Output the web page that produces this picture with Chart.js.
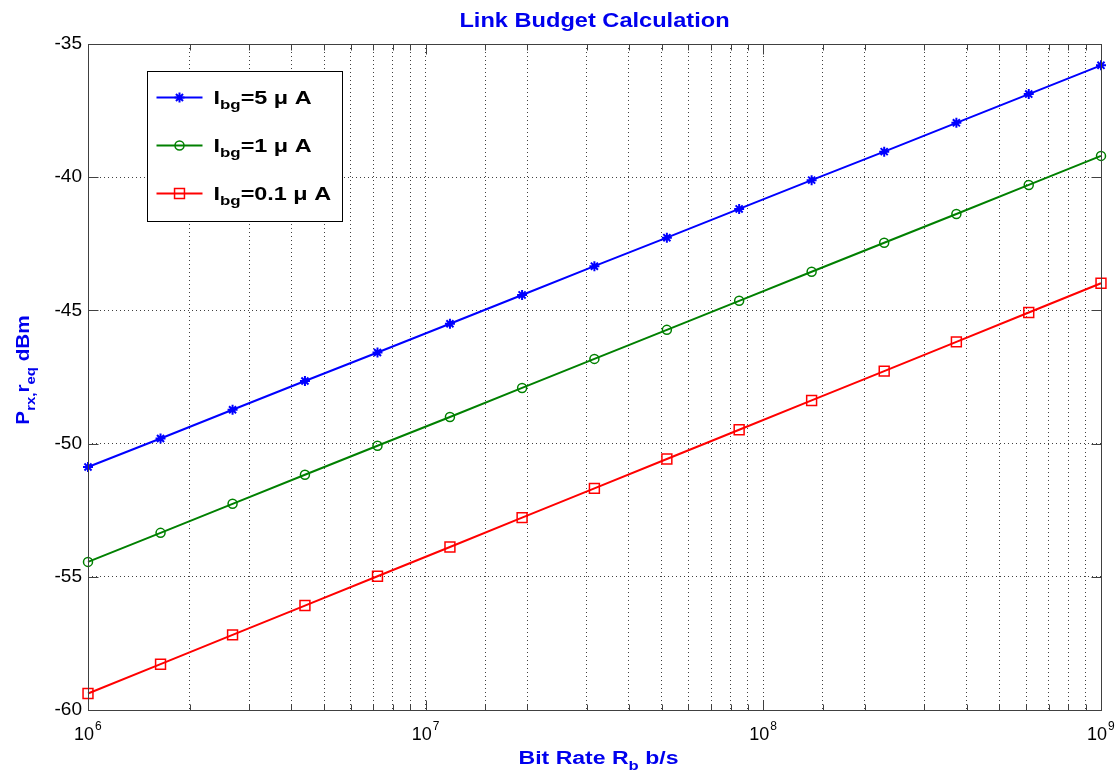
<!DOCTYPE html>
<html>
<head>
<meta charset="utf-8">
<title>Link Budget Calculation</title>
<script src="https://cdn.jsdelivr.net/npm/chart.js@4.4.1/dist/chart.umd.min.js"></script>
<style>
  html, body { margin: 0; padding: 0; background: #ffffff; }
  #linkChart { display: block; }
</style>
</head>
<body>
<canvas id="linkChart" width="1118" height="773"></canvas>
<script>
// Bit rates (b/s) of the computed points, log spaced 1e6 .. 1e9
var bitRates = [1e6, 1.64e6, 2.68e6, 4.39e6, 7.2e6, 1.18e7, 1.93e7, 3.16e7,
    5.18e7, 8.48e7, 1.39e8, 2.28e8, 3.73e8, 6.11e8, 1e9];

// Required received power (dBm) for each background current
var ibg5uA = [-50.88, -49.81, -48.73, -47.65, -46.58, -45.50, -44.42, -43.34,
    -42.27, -41.19, -40.11, -39.04, -37.96, -36.88, -35.80];
var ibg1uA = [-54.44, -53.35, -52.26, -51.17, -50.08, -49.00, -47.91, -46.82,
    -45.73, -44.64, -43.55, -42.46, -41.38, -40.29, -39.20];
var ibg01uA = [-59.38, -58.28, -57.18, -56.08, -54.98, -53.88, -52.78, -51.68,
    -50.58, -49.48, -48.38, -47.28, -46.18, -45.08, -43.98];

var seriesLabels = ["I_{bg}=5 \u03bc A", "I_{bg}=1 \u03bc A", "I_{bg}=0.1 \u03bc A"];

// Axis limits and tick step
var xMin = 1e6, xMax = 1e9;
var yMin = -60, yMax = -35, yStep = 5;

var chartTitle = "Link Budget Calculation";
var xAxisTitle = "Bit Rate R_{b} b/s";
var yAxisTitle = "P_{rx,}r_{eq} dBm";

var FONT = '"Liberation Sans", Arial, Helvetica, sans-serif';
var BLUE_TEXT = "#0000ee";

function toPoints(values) {
    return bitRates.map(function (x, i) {
        return { x: x, y: values[i] };
    });
}

function isDecade(v) {
    var e = Math.log10(v);
    return Math.abs(e - Math.round(e)) < 1e-6;
}

// Split "A_{b}c" into normal / subscript parts
function parseRich(s) {
    var out = [];
    var re = /_\{([^}]*)\}/g;
    var last = 0, m;
    while ((m = re.exec(s)) !== null) {
        if (m.index > last) out.push({ text: s.slice(last, m.index), sub: false });
        out.push({ text: m[1], sub: true });
        last = re.lastIndex;
    }
    if (last < s.length) out.push({ text: s.slice(last), sub: false });
    return out;
}

function drawRichText(ctx, text, x, y, size, scaleX, align) {
    var parts = parseRich(text);
    var total = 0;
    parts.forEach(function (p) {
        p.size = p.sub ? Math.round(size * 0.72) : size;
        ctx.font = "bold " + p.size + "px " + FONT;
        p.w = ctx.measureText(p.text).width;
        total += p.w;
    });
    ctx.save();
    ctx.translate(x, y);
    ctx.scale(scaleX, 1);
    ctx.textAlign = "left";
    ctx.textBaseline = "alphabetic";
    var cx = align === "center" ? -total / 2 : 0;
    parts.forEach(function (p) {
        ctx.font = "bold " + p.size + "px " + FONT;
        ctx.fillText(p.text, cx, p.sub ? size * 0.32 : 0);
        cx += p.w;
    });
    ctx.restore();
}

function strokeLine(ctx, x1, y1, x2, y2) {
    ctx.beginPath();
    ctx.moveTo(x1, y1);
    ctx.lineTo(x2, y2);
    ctx.stroke();
}

function drawMarker(ctx, ds, x, y) {
    ctx.save();
    ctx.strokeStyle = ds.borderColor;
    ctx.fillStyle = ds.pointBackgroundColor;
    ctx.lineWidth = ds.pointBorderWidth;
    Chart.helpers.drawPoint(ctx, {
        pointStyle: ds.pointStyle,
        radius: ds.pointRadius,
        rotation: 0,
        borderWidth: ds.pointBorderWidth
    }, x, y);
    ctx.restore();
}

// Box, inward ticks, decade labels, titles and legend in MATLAB style
var matlabAxesPlugin = {
    id: "matlabAxes",
    afterDraw: function (chart) {
        var ctx = chart.ctx;
        var area = chart.chartArea;
        var xs = chart.scales.x;
        var ys = chart.scales.y;
        var L = Math.round(area.left) + 0.5, R = Math.round(area.right) + 0.5;
        var T = Math.round(area.top) + 0.5, B = Math.round(area.bottom) + 0.5;

        ctx.save();
        ctx.strokeStyle = "#404040";
        ctx.lineWidth = 1;
        ctx.strokeRect(L, T, R - L, B - T);

        xs.ticks.forEach(function (t) {
            var px = Math.round(xs.getPixelForValue(t.value)) + 0.5;
            var len = isDecade(t.value) ? 10 : 6;
            strokeLine(ctx, px, B, px, B - len);
            strokeLine(ctx, px, T, px, T + len);
        });
        ys.ticks.forEach(function (t) {
            var py = Math.round(ys.getPixelForValue(t.value)) + 0.5;
            strokeLine(ctx, L, py, L + 10, py);
            strokeLine(ctx, R, py, R - 10, py);
        });

        // Decade labels 10^n with a raised exponent
        ctx.fillStyle = "#000000";
        ctx.textBaseline = "alphabetic";
        xs.ticks.forEach(function (t) {
            if (!isDecade(t.value)) return;
            var px = xs.getPixelForValue(t.value);
            var exp = String(Math.round(Math.log10(t.value)));
            ctx.font = "18px " + FONT;
            ctx.textAlign = "right";
            ctx.fillText("10", px + 6, area.bottom + 30);
            ctx.font = "12px " + FONT;
            ctx.textAlign = "left";
            ctx.fillText(exp, px + 7, area.bottom + 20);
        });

        // Titles
        ctx.fillStyle = BLUE_TEXT;
        var cx = (area.left + area.right) / 2;
        drawRichText(ctx, chartTitle, cx, 27, 20, 1.18, "center");
        drawRichText(ctx, xAxisTitle, cx + 4, 764, 18, 1.28, "center");
        ctx.save();
        ctx.translate(29, 370);
        ctx.rotate(-Math.PI / 2);
        drawRichText(ctx, yAxisTitle, 0, 0, 18, 1.15, "center");
        ctx.restore();

        // Legend box
        var bx = Math.round(area.left) + 59.5, by = Math.round(area.top) + 27.5;
        var bw = 195, bh = 150;
        ctx.fillStyle = "#ffffff";
        ctx.fillRect(bx, by, bw, bh);
        ctx.strokeStyle = "#000000";
        ctx.lineWidth = 1;
        ctx.strokeRect(bx, by, bw, bh);

        chart.data.datasets.forEach(function (ds, i) {
            var ly = by + 26 + i * 48;
            ctx.strokeStyle = ds.borderColor;
            ctx.lineWidth = ds.borderWidth;
            strokeLine(ctx, bx + 9, ly, bx + 55, ly);
            drawMarker(ctx, ds, bx + 32, ly);
            ctx.fillStyle = "#000000";
            drawRichText(ctx, ds.label, bx + 66, ly + 6, 18, 1.3, "left");
        });
        ctx.restore();
    }
};

var ctx = document.getElementById("linkChart").getContext("2d");
var linkChart = new Chart(ctx, {
    type: "line",
    data: {
        datasets: [
            {
                label: seriesLabels[0],
                data: toPoints(ibg5uA),
                borderColor: "#0000ff",
                borderWidth: 2,
                pointStyle: "star",
                pointRadius: 5,
                pointBorderWidth: 2,
                pointBackgroundColor: "#0000ff",
                clip: false
            },
            {
                label: seriesLabels[1],
                data: toPoints(ibg1uA),
                borderColor: "#008000",
                borderWidth: 2,
                pointStyle: "circle",
                pointRadius: 4.5,
                pointBorderWidth: 1.5,
                pointBackgroundColor: "rgba(0,0,0,0)",
                clip: false
            },
            {
                label: seriesLabels[2],
                data: toPoints(ibg01uA),
                borderColor: "#ff0000",
                borderWidth: 2,
                pointStyle: "rect",
                pointRadius: 7,
                pointBorderWidth: 1.5,
                pointBackgroundColor: "rgba(0,0,0,0)",
                clip: false
            }
        ]
    },
    options: {
        responsive: false,
        devicePixelRatio: 1,
        animation: false,
        layout: { padding: { left: 0, right: 17, top: 44, bottom: 0 } },
        elements: { line: { tension: 0 } },
        plugins: {
            legend: { display: false },
            title: { display: false },
            tooltip: { enabled: false }
        },
        scales: {
            x: {
                type: "logarithmic",
                min: xMin,
                max: xMax,
                grid: { color: "rgba(0,0,0,0.75)", lineWidth: 1, drawTicks: false },
                border: { display: false, dash: [1, 3] },
                ticks: {
                    display: false,
                    autoSkip: false,
                    maxRotation: 0
                },
                afterFit: function (scale) {
                    scale.height = 63;
                    scale.paddingLeft = 0;
                    scale.paddingRight = 0;
                }
            },
            y: {
                min: yMin,
                max: yMax,
                grid: { color: "rgba(0,0,0,0.75)", lineWidth: 1, drawTicks: false },
                border: { display: false, dash: [1, 3] },
                ticks: {
                    stepSize: yStep,
                    padding: 6,
                    color: "#000000",
                    font: { family: FONT, size: 19 }
                },
                afterFit: function (scale) { scale.width = 88; }
            }
        }
    },
    plugins: [matlabAxesPlugin]
});
</script>
</body>
</html>
